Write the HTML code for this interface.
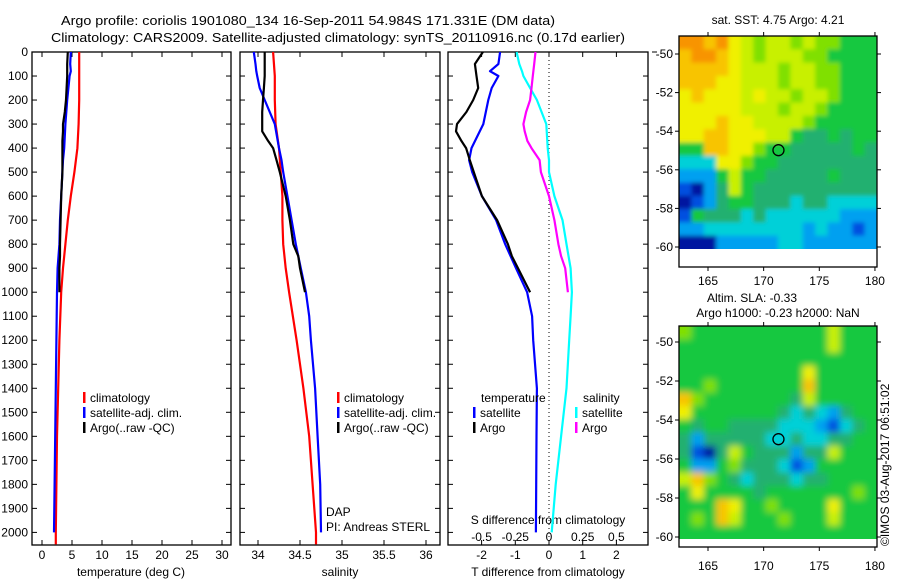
<!DOCTYPE html>
<html><head><meta charset="utf-8"><style>
html,body{margin:0;padding:0;background:#fff;}
svg{display:block;font-family:"Liberation Sans",sans-serif;}
</style></head><body>
<svg id="fig" width="900" height="580" viewBox="0 0 900 580" xmlns="http://www.w3.org/2000/svg">
<defs>
<filter id="blur2" x="-5%" y="-5%" width="110%" height="110%"><feGaussianBlur stdDeviation="2.2"/></filter>
<filter id="blur3" x="-5%" y="-5%" width="110%" height="110%"><feGaussianBlur stdDeviation="3.5"/></filter>
<clipPath id="clipSst"><rect x="679" y="36" width="198" height="213"/></clipPath>
<clipPath id="clipSla"><rect x="679" y="326" width="198" height="213"/></clipPath>
</defs>
<rect width="900" height="580" fill="#fff"/>
<text x="61" y="25" font-size="13" textLength="494" lengthAdjust="spacingAndGlyphs">Argo profile: coriolis 1901080_134 16-Sep-2011 54.984S 171.331E (DM data)</text>
<text x="51" y="42" font-size="13" textLength="574" lengthAdjust="spacingAndGlyphs">Climatology: CARS2009. Satellite-adjusted climatology: synTS_20110916.nc (0.17d earlier)</text>
<g id="plots"></g>
</svg>
<script>
// ---- data ----
const depthTicks = [0,100,200,300,400,500,600,700,800,900,1000,1100,1200,1300,1400,1500,1600,1700,1800,1900,2000];
const tempTicks = [0,5,10,15,20,25,30];
const salTicks = [34,34.5,35,35.5,36];
const salTickLabels = ["34","34.5","35","35.5","36"];
const tdiffTicks = [-2,-1,0,1,2];
const sdiffTicks = [-0.5,-0.25,0,0.25,0.5];
const sdiffTickLabels = ["-0.5","-0.25","0","0.25","0.5"];

const argoDepth = [0,50,100,150,200,250,300,330,370,400,450,500,600,700,800,850,900,1000];
const argoTemp  = [4.3,4.2,4.2,4.1,4.0,3.8,3.5,3.5,3.4,3.4,3.4,3.4,3.2,3.1,3.0,3.0,2.9,2.9];
const argoSal   = [34.08,34.08,34.08,34.07,34.06,34.05,34.05,34.05,34.12,34.18,34.22,34.26,34.33,34.38,34.42,34.48,34.5,34.56];
const argoTdiff = [-1.96,-2.2,-2.15,-2.1,-2.25,-2.45,-2.73,-2.76,-2.6,-2.46,-2.35,-2.23,-1.99,-1.54,-1.22,-1.1,-0.92,-0.56];
const argoSdiff = [-0.10,-0.11,-0.12,-0.13,-0.14,-0.17,-0.19,-0.18,-0.16,-0.13,-0.07,-0.06,0,0.04,0.07,0.09,0.12,0.14];

const satDepth = [0,50,80,100,150,200,300,400,450,500,600,700,800,900,1000,1100,1200,1400,1600,1800,2000];
const satTemp  = [4.8,4.7,4.8,4.6,4.4,4.2,3.9,3.7,3.5,3.4,3.2,3.0,2.9,2.6,2.5,2.45,2.4,2.3,2.2,2.1,2.0];
const satSal   = [33.95,33.97,33.98,33.99,34.02,34.08,34.2,34.25,34.28,34.30,34.35,34.40,34.45,34.51,34.57,34.61,34.63,34.68,34.71,34.74,34.75];
const satTdiff = [-1.45,-1.5,-1.75,-1.5,-1.7,-1.8,-1.95,-2.3,-2.37,-2.28,-1.99,-1.57,-1.3,-0.98,-0.65,-0.5,-0.47,-0.36,-0.37,-0.38,-0.39];
const satSdiff = [-0.24,-0.22,-0.2,-0.19,-0.14,-0.09,-0.02,-0.01,0,0,0.04,0.1,0.13,0.16,0.17,0.16,0.15,0.13,0.09,0.05,0.02];

const climDepth = [0,100,200,300,400,500,600,700,800,900,1000,1200,1400,1600,1800,2000,2050];
const climTemp  = [6.2,6.2,6.2,6.1,5.9,5.4,4.8,4.3,3.9,3.5,3.2,2.9,2.7,2.5,2.4,2.3,2.3];
const climSal   = [34.18,34.2,34.2,34.21,34.25,34.27,34.29,34.29,34.30,34.33,34.37,34.46,34.54,34.61,34.65,34.69,34.69];

const mapLonTicks = [165,170,175,180];
const mapLatTicks = [-50,-52,-54,-56,-58,-60];
const argoLon = 171.331, argoLat = -54.984;
const palette = ["#0018a0","#0050e0","#00a0f0","#00d0d8","#20b070","#18c840","#80e000","#c8f000","#f0f000","#f8c400","#f89400"];
const sstGrid = [
"AA9A876776766555","9AA9876777665555","9999877767766555","9998877767766555",
"8988878776776555","8888877767765555","8889887777655555","8899888775445455",
"5599886554444454","3338865544444444","2225755444445444","1024754444444444",
"0124554443443333","1544434333333222","2233333333232212","0002222233222222"];
const slaGrid = [
"6555555555557555","5555555555557555","5555555555555555","5555555555855555",
"5565555555955555","9655555554755555","8555555543432455","5455444433321345",
"4244444334334455","4104754442447555","5225644431255555","7965434443445555",
"5855554555555565","5559855655558555","5659755565557555","5555555555555555"];

// ---- helpers ----
const NS="http://www.w3.org/2000/svg";
const root=document.getElementById('plots');
function mk(tag,attrs,parent){const e=document.createElementNS(NS,tag);for(const k in attrs)e.setAttribute(k,attrs[k]);(parent||root).appendChild(e);return e;}
function txt(x,y,s,anchor,size,parent){const t=mk('text',{x:x,y:y,'font-size':size||12,'text-anchor':anchor||'start'},parent);t.textContent=s;return t;}

const Y0=52, PXD=0.2402, YB=545;
function yD(d){return Y0+d*PXD;}
function xT(t){return 42+t*6;}
function xS(s){return 258+(s-34)*84;}
function xTd(t){return 549+t*33.7;}
function xSd(s){return 549+s*134.8;}

const panels=[{x0:32,x1:231,name:'temperature-panel'},{x0:240,x1:440,name:'salinity-panel'},{x0:448,x1:648,name:'difference-panel'}];
panels.forEach((p,i)=>{
  const g=mk('g',{});
  
  
  mk('rect',{x:p.x0,y:Y0,width:p.x1-p.x0,height:YB-Y0,fill:'none',stroke:'#000','stroke-width':1.3},g);
  depthTicks.forEach(d=>{
    mk('line',{x1:p.x0,x2:p.x0+5,y1:yD(d),y2:yD(d),stroke:'#000'},g);
    mk('line',{x1:p.x1,x2:p.x1-5,y1:yD(d),y2:yD(d),stroke:'#000'},g);
  });
});
const yl=mk('g',{});


depthTicks.forEach(d=>{txt(28,yD(d)+4,String(d),'end',12,yl);});
mk('line',{x1:652,x2:657,y1:yD(0),y2:yD(0),stroke:'#000'});

function xticks(vals,labels,fx,p,ly,name){
  const g=mk('g',{});
  
  
  vals.forEach((v,i)=>{const x=fx(v);
    mk('line',{x1:x,x2:x,y1:YB,y2:YB-5,stroke:'#000'},g);
    mk('line',{x1:x,x2:x,y1:Y0,y2:Y0+5,stroke:'#000'},g);
    txt(x,ly,labels[i],'middle',12,g);});
}
xticks(tempTicks,tempTicks.map(String),xT,panels[0],559,'x-axis-temperature');
xticks(salTicks,salTickLabels,xS,panels[1],559,'x-axis-salinity');
xticks(tdiffTicks,tdiffTicks.map(String),xTd,panels[2],559,'x-axis-t-difference');
const sdg=mk('g',{});


sdiffTicks.forEach((v,i)=>{txt(xSd(v),541,sdiffTickLabels[i],'middle',12,sdg);});
let t;
t=txt(131,576,'temperature (deg C)','middle',12);  
t=txt(340,576,'salinity','middle',12);  
t=txt(548,576,'T difference from climatology','middle',12);  
t=txt(548,524,'S difference from climatology','middle',12);  
t=txt(326,516,'DAP','start',12);  
t=txt(326,531,'PI: Andreas STERL','start',12);  
const zl=mk('line',{x1:549,x2:549,y1:Y0,y2:YB,stroke:'#000','stroke-dasharray':'1,3'});
 

function line(depths,vals,fx,color,name){
  const pts=depths.map((d,i)=>fx(vals[i]).toFixed(1)+','+yD(d).toFixed(1)).join(' ');
  const e=mk('polyline',{points:pts,fill:'none',stroke:color,'stroke-width':2.2,'stroke-linejoin':'round'});
  
  
}
line(climDepth,climTemp,xT,'#ff0000','temp-climatology-line');
line(satDepth,satTemp,xT,'#0000ff','temp-satellite-line');
line(argoDepth,argoTemp,xT,'#000000','temp-argo-line');
line(climDepth,climSal,xS,'#ff0000','sal-climatology-line');
line(satDepth,satSal,xS,'#0000ff','sal-satellite-line');
line(argoDepth,argoSal,xS,'#000000','sal-argo-line');
line(satDepth,satSdiff,xSd,'#00ffff','sdiff-satellite-line');
line(argoDepth,argoSdiff,xSd,'#ff00ff','sdiff-argo-line');
line(satDepth,satTdiff,xTd,'#0000ff','tdiff-satellite-line');
line(argoDepth,argoTdiff,xTd,'#000000','tdiff-argo-line');

function legend(x,y,items,name){
  const g=mk('g',{});
  
  
  items.forEach((it,i)=>{
    if(it[1]) mk('rect',{x:x,y:y+i*15-10,width:2.5,height:11,fill:it[1]},g);
    txt(x+(it[1]?7:0),y+i*15,it[0],'start',12,g);
  });
}
legend(83,402,[['climatology','#ff0000'],['satellite-adj. clim.','#0000ff'],['Argo(..raw -QC)','#000000']],'temp-legend');
legend(337,402,[['climatology','#ff0000'],['satellite-adj. clim.','#0000ff'],['Argo(..raw -QC)','#000000']],'sal-legend');
legend(481,402,[['temperature',null]],'tdiff-legend-title');
legend(473,417,[['satellite','#0000ff'],['Argo','#000000']],'tdiff-legend');
legend(583,402,[['salinity',null]],'sdiff-legend-title');
legend(575,417,[['satellite','#00ffff'],['Argo','#ff00ff']],'sdiff-legend');

// ---- maps ----
function drawMap(grid,top,imgBot,boxBot,latTop,latPx,name,lonLabelY,clip,blur){
  const g=mk('g',{});
  
  
  const L=679,R=877,rows=grid.length,cols=grid[0].length;
  const cg=mk('g',{'clip-path':'url(#'+clip+')'},g);
  const cells=mk('g',{filter:'url(#'+blur+')'},cg);
  const cw=(R-L)/cols,ch=(imgBot-top)/rows;
  grid.forEach((row,r)=>{for(let c=0;c<cols;c++){
    const v=parseInt(row[c],16);
    const cell=mk('rect',{x:(L+c*cw-(c==0?8:0)).toFixed(2),y:(top+r*ch-(r==0?8:0)).toFixed(2),width:(cw+0.6+(c==0||c==cols-1?8:0)).toFixed(2),height:(ch+0.6+(r==0||r==rows-1?8:0)).toFixed(2),fill:palette[v]},cells);
    
    
  }});
  mk('rect',{x:L,y:top,width:R-L,height:boxBot-top,fill:'none',stroke:'#000','stroke-width':1.3},g);
  const xLon=lon=>708+(lon-165)*11.13;
  const yLat=lat=>latTop+(-50-lat)*latPx;
  mapLonTicks.forEach(lon=>{const x=xLon(lon);
    mk('line',{x1:x,x2:x,y1:top,y2:top-4,stroke:'#000'},g);
    mk('line',{x1:x,x2:x,y1:boxBot,y2:boxBot+4,stroke:'#000'},g);
    txt(x,lonLabelY,String(lon),'middle',12,g);});
  mapLatTicks.forEach(lat=>{const y=yLat(lat);
    mk('line',{x1:L,x2:L-4,y1:y,y2:y,stroke:'#000'},g);
    mk('line',{x1:R,x2:R+4,y1:y,y2:y,stroke:'#000'},g);
    txt(673,y+4,String(lat),'end',12,g);});
  const c=mk('circle',{cx:xLon(argoLon),cy:yLat(argoLat),r:5.5,fill:'none',stroke:'#000','stroke-width':1.3},g);
  
  
}
drawMap(sstGrid,36,249,267,54,19.3,'sst-map',285,'clipSst','blur2');
drawMap(slaGrid,326,539,547,342,19.5,'sla-map',570,'clipSla','blur3');
t=txt(778,24,'sat. SST: 4.75 Argo: 4.21','middle',12);  
t=txt(752,302,'Altim. SLA: -0.33','middle',12);  
t=txt(778,317,'Argo h1000: -0.23 h2000: NaN','middle',12);  
t=txt(0,0,'©IMOS 03-Aug-2017 06:51:02','start',12);
t.setAttribute('transform','translate(889,546) rotate(-90)');
 
</script>
</body></html>
